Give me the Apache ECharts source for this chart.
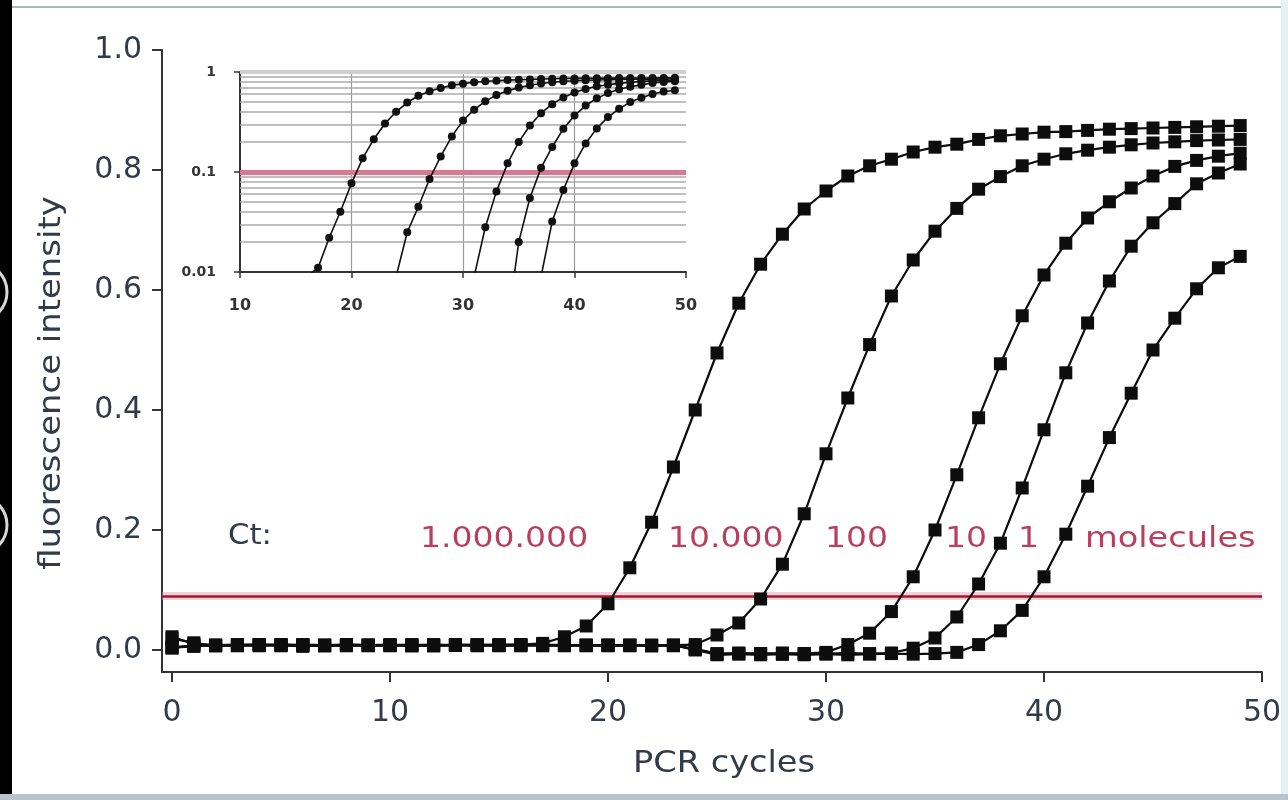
<!DOCTYPE html>
<html>
<head>
<meta charset="utf-8">
<script src="https://cdn.jsdelivr.net/npm/echarts@6/dist/echarts.min.js"></script>
<style>
html,body{margin:0;padding:0;background:#fff;}
#c{width:1288px;height:800px;}
</style>
</head>
<body>
<div id="c"></div>
<script>
// ---------- data ----------
const cycles = [0,1,2,3,4,5,6,7,8,9,10,11,12,13,14,15,16,17,18,19,20,21,22,23,24,25,26,27,28,29,30,31,32,33,34,35,36,37,38,39,40,41,42,43,44,45,46,47,48,49];

const mol1000000 = [0.022,0.010,0.008,0.009,0.008,0.007,0.009,0.008,0.008,0.007,
  0.008,0.009,0.007,0.008,0.008,0.009,0.009,0.011,0.022,0.040,
  0.077,0.137,0.213,0.305,0.400,0.495,0.578,0.643,0.693,0.735,
  0.765,0.790,0.807,0.818,0.830,0.838,0.843,0.851,0.857,0.860,
  0.863,0.864,0.866,0.868,0.869,0.870,0.871,0.872,0.873,0.874];

const mol10000 = [0.019,0.012,0.007,0.008,0.009,0.008,0.006,0.008,0.009,0.008,
  0.007,0.008,0.009,0.008,0.007,0.008,0.008,0.009,0.008,0.007,
  0.008,0.008,0.007,0.008,0.009,0.025,0.045,0.085,0.143,0.227,
  0.327,0.420,0.509,0.590,0.650,0.698,0.736,0.768,0.789,0.807,
  0.818,0.827,0.833,0.838,0.842,0.845,0.847,0.849,0.850,0.851];

const mol100 = [0.004,0.006,0.008,0.007,0.008,0.009,0.008,0.007,0.008,0.008,
  0.009,0.007,0.008,0.008,0.009,0.008,0.007,0.008,0.008,0.008,
  0.007,0.008,0.008,0.007,0.002,-0.006,-0.005,-0.006,-0.005,-0.006,
  -0.004,0.009,0.028,0.064,0.122,0.200,0.292,0.387,0.477,0.557,
  0.625,0.678,0.720,0.747,0.770,0.790,0.806,0.816,0.823,0.828];

const mol10 = [0.003,0.008,0.007,0.008,0.009,0.008,0.008,0.007,0.009,0.008,
  0.008,0.008,0.007,0.009,0.008,0.008,0.009,0.007,0.008,0.008,
  0.008,0.007,0.008,0.008,0.001,-0.007,-0.006,-0.006,-0.007,-0.006,
  -0.006,-0.005,-0.006,-0.005,0.003,0.020,0.055,0.110,0.178,0.270,
  0.367,0.462,0.545,0.615,0.673,0.712,0.744,0.777,0.795,0.810];

const mol1 = [0.005,0.007,0.008,0.008,0.007,0.009,0.008,0.008,0.007,0.008,
  0.008,0.007,0.008,0.008,0.008,0.007,0.008,0.008,0.007,0.008,
  0.008,0.008,0.007,0.008,0.000,-0.008,-0.007,-0.008,-0.007,-0.008,
  -0.007,-0.008,-0.007,-0.006,-0.007,-0.006,-0.004,0.009,0.032,0.066,
  0.122,0.193,0.273,0.354,0.428,0.500,0.553,0.602,0.637,0.656];

const threshold = 0.09;
const insetThreshold = 0.1;

const mainXTicks = [0,10,20,30,40,50];
const mainYTicks = [0,0.2,0.4,0.6,0.8,1.0];
const insetYTicks = [0.01,0.1,1];
const insetMinorLines = [0.02,0.03,0.04,0.05,0.06,0.07,0.08,0.09,0.2,0.3,0.4,0.5,0.6,0.7,0.8,0.9];

const sampleLabels = ['1.000.000','10.000','100','10','1'];
const unitLabel = 'molecules';
const ctLabel = 'Ct:';

// ---------- chart ----------
const chart = echarts.init(document.getElementById('c'), null, {renderer:'canvas'});
const FONT = 'DejaVu Sans';
const TXT = '#333b48';
const RED = '#b8405c';
const allSeries = [mol1000000, mol10000, mol100, mol10, mol1];

const series = [];
// threshold (main)
series.push({
  type:'line', xAxisIndex:0, yAxisIndex:0, z:1, silent:true,
  data: mol1000000.map((v,k)=>[cycles[k], v]),
  showSymbol:false, lineStyle:{opacity:0},
  markLine:{silent:true, symbol:'none', animation:false, label:{show:false},
    data:[
      {yAxis:threshold, lineStyle:{color:'rgba(236,150,168,0.45)', width:8, type:'solid'}},
      {yAxis:threshold, lineStyle:{color:'#a3182f', width:2.5, type:'solid'}}
    ]}
});
allSeries.forEach(arr=>{
  series.push({
    type:'line', xAxisIndex:0, yAxisIndex:0, z:5, silent:true,
    data: arr.map((v,k)=>[cycles[k], v]),
    symbol:'rect', symbolSize:13, showAllSymbol:true,
    itemStyle:{color:'#0d0d0d'}, lineStyle:{color:'#0d0d0d', width:2.2},
    emphasis:{disabled:true}
  });
});
// inset grid lines
series.push({
  type:'line', xAxisIndex:1, yAxisIndex:1, z:1, silent:true,
  data: mol1000000.map((v,k)=>[cycles[k], v>0?v:null]),
  showSymbol:false, lineStyle:{opacity:0},
  markLine:{silent:true, symbol:'none', animation:false, label:{show:false},
    data: insetMinorLines.map(v=>({yAxis:v, lineStyle:{color:'#aaaaaa', width:1.5, type:'solid'}}))
      .concat([{yAxis:1, lineStyle:{color:'#cfcfcf', width:4, type:'solid'}},
               {yAxis:insetThreshold, lineStyle:{color:'#d57a90', width:5, type:'solid'}}])
  }
});
allSeries.forEach(arr=>{
  series.push({
    type:'line', xAxisIndex:1, yAxisIndex:1, z:5, silent:true, clip:true,
    data: arr.map((v,k)=>[cycles[k], v>0?v:null]),
    symbol:'circle', symbolSize:8, showAllSymbol:true,
    itemStyle:{color:'#111'}, lineStyle:{color:'#111', width:1.6},
    emphasis:{disabled:true}
  });
});

const labelLefts = [420, 668, 825, 945, 1018];
const graphics = [
  {type:'rect', shape:{x:0,y:0,width:12,height:800}, style:{fill:'#000'}, z:100},
  {type:'arc', shape:{cx:-22, cy:292, r:29, startAngle:-Math.PI/2, endAngle:Math.PI/2}, style:{stroke:'#d8d8d8', lineWidth:3, fill:null}, z:101},
  {type:'arc', shape:{cx:-22, cy:525, r:29, startAngle:-Math.PI/2, endAngle:Math.PI/2}, style:{stroke:'#d8d8d8', lineWidth:3, fill:null}, z:101},
  {type:'line', shape:{x1:12,y1:7,x2:1288,y2:7}, style:{stroke:'#aab6c1', lineWidth:2}, z:100},
  {type:'rect', shape:{x:1281,y:0,width:7,height:800}, style:{fill:'#e4f1f6'}, z:100},
  {type:'rect', shape:{x:0,y:794,width:1288,height:6}, style:{fill:'#b9c3cb'}, z:100},
  {type:'text', x:52, y:383, rotation:Math.PI/2, scaleX:1.13, z:100,
    style:{text:'fluorescence intensity', font:'30px "'+FONT+'"', fill:TXT, align:'center', verticalAlign:'middle'}},
  {type:'text', x:724, y:764, scaleX:1.12, z:100,
    style:{text:'PCR cycles', font:'30px "'+FONT+'"', fill:TXT, align:'center', verticalAlign:'middle'}},
  {type:'text', x:228, y:537, scaleX:1.1, z:100,
    style:{text:ctLabel, font:'28px "'+FONT+'"', fill:TXT, align:'left', verticalAlign:'middle'}},
  {type:'text', x:1085, y:540, scaleX:1.2, z:100,
    style:{text:unitLabel, font:'28px "'+FONT+'"', fill:RED, align:'left', verticalAlign:'middle'}}
];
sampleLabels.forEach((t,i)=>{
  graphics.push({type:'text', x:labelLefts[i], y:540, scaleX:1.18, z:100,
    style:{text:t, font:'28px "'+FONT+'"', fill:RED, align:'left', verticalAlign:'middle'}});
});

const option = {
  animation:false,
  backgroundColor:'#ffffff',
  grid:[
    {left:162, top:50, right:26, bottom:128, outerBoundsMode:'none', containLabel:false},
    {left:240, top:72, right:602, bottom:528, outerBoundsMode:'none', containLabel:false}
  ],
  xAxis:[
    {type:'value', gridIndex:0, min:-0.46, max:50,
      axisLine:{show:true, onZero:false, lineStyle:{color:'#333', width:2}},
      axisTick:{show:true, inside:false, length:10, customValues:mainXTicks, lineStyle:{color:'#333', width:2}},
      axisLabel:{show:true, customValues:mainXTicks, margin:26, color:TXT, fontSize:30, fontFamily:FONT},
      splitLine:{show:false}, minorTick:{show:false}},
    {type:'value', gridIndex:1, min:10, max:50, interval:10,
      axisLine:{show:true, onZero:false, lineStyle:{color:'#333', width:2}},
      axisTick:{show:true, inside:false, length:6, lineStyle:{color:'#333', width:1.5}},
      axisLabel:{show:true, margin:26, color:'#333', fontSize:16, fontWeight:'bold', fontFamily:FONT},
      splitLine:{show:true, showMinLine:false, showMaxLine:false, lineStyle:{color:'#999', width:1.2}}}
  ],
  yAxis:[
    {type:'value', gridIndex:0, min:-0.0367, max:1.0,
      axisLine:{show:true, onZero:false, lineStyle:{color:'#333', width:2}},
      axisTick:{show:true, inside:false, length:10, customValues:mainYTicks, lineStyle:{color:'#333', width:2}},
      axisLabel:{show:true, customValues:mainYTicks, margin:20, color:TXT, fontSize:30, fontFamily:FONT,
        formatter:v=>Number(v).toFixed(1)},
      splitLine:{show:false}},
    {type:'log', gridIndex:1, logBase:10, min:0.01, max:1,
      axisLine:{show:true, onZero:false, lineStyle:{color:'#333', width:2}},
      axisTick:{show:true, inside:false, length:6, customValues:insetYTicks, lineStyle:{color:'#333', width:1.5}},
      axisLabel:{show:true, customValues:insetYTicks, margin:24, color:'#333', fontSize:14, fontWeight:'bold', fontFamily:FONT,
        formatter:v=>String(Number(Number(v).toPrecision(1)))},
      splitLine:{show:false}}
  ],
  series: series,
  graphic: graphics
};
chart.setOption(option);
</script>
</body>
</html>
